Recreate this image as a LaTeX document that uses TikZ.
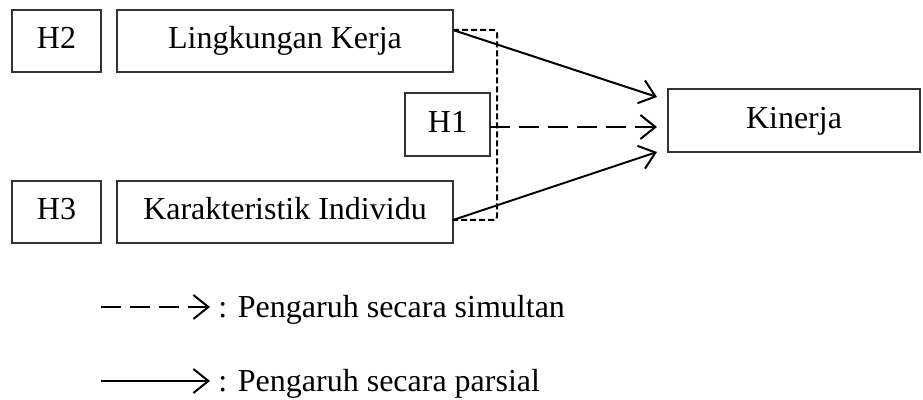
\documentclass[tikz,border=0pt]{standalone}
\usepackage{fontspec}
\setmainfont{Liberation Serif}
\usetikzlibrary{arrows.meta,positioning}

\begin{document}
\begin{tikzpicture}[x=.5pt,y=-.5pt,font=\fontsize{16}{19}\selectfont,
  kotak/.style={draw=black!80,line width=.6pt,inner sep=0pt,outer sep=0pt,minimum height=31pt,text height=11.5pt,text depth=3.5pt},
  parsial/.style={line width=1pt,-{Straight Barb[length=7.5pt,width=12pt,line width=1pt]}},
  simultan/.style={parsial,dash pattern=on 10pt off 4.5pt},
  kurung/.style={line width=1pt,dash pattern=on 3pt off 1.5pt,rounded corners=1.5pt}]
\useasboundingbox (0,0) rectangle (923,400);
% variabel dan hipotesis
\node[kotak,minimum width=44.5pt] (h2) at (56.5,41) {H2};
\node[kotak,minimum width=168pt] (lk) at (285,41) {Lingkungan Kerja};
\node[kotak,minimum width=42.5pt,minimum height=31.5pt] (h1) at (447.5,124.5) {H1};
\node[kotak,minimum width=44.5pt] (h3) at (56.5,212) {H3};
\node[kotak,minimum width=168pt] (ki) at (285,212) {Karakteristik Individu};
\node[kotak,minimum width=126pt,minimum height=31.5pt] (kin) at (794,120.5) {Kinerja};
\coordinate (lk-out) at ([yshift=5.5pt]lk.east);
\coordinate (ki-out) at ([yshift=-4pt]ki.east);
% hubungan
\draw[kurung] (lk-out) -- ++(22pt,0) |- (ki-out);
\draw[parsial] (lk-out) -- ([xshift=-5.5pt,yshift=11.75pt]kin.west);
\draw[simultan] ([yshift=-1.25pt]h1.east) -- ([xshift=-5.5pt,yshift=-3.25pt]kin.west);
\draw[parsial] (ki-out) -- ([xshift=-5.5pt,yshift=-15.75pt]kin.west);
% keterangan
\coordinate (ls0) at (101,307); \coordinate (ls1) at (210,307);
\coordinate (lp0) at (101,381); \coordinate (lp1) at (210,381);
\node[anchor=base west,inner sep=0pt] (ket1) at (218,318) {: Pengaruh secara simultan};
\node[anchor=base west,inner sep=0pt] (ket2) at (218,392) {: Pengaruh secara parsial};
\draw[simultan] (ls0) -- (ls1);
\draw[parsial] (lp0) -- (lp1);
\end{tikzpicture}
\end{document}
